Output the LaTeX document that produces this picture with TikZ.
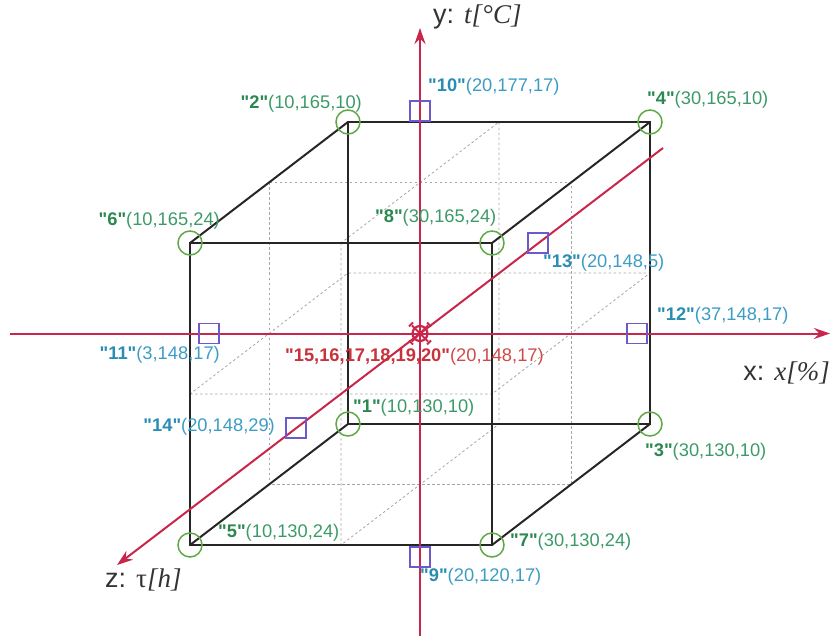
\documentclass[tikz,border=0pt]{standalone}
\usepackage{fontspec}
\setmainfont{Liberation Sans}[Ligatures=TeXOff]
\newfontfamily\tms{Liberation Serif}
\usetikzlibrary{arrows.meta}
\definecolor{axred}{HTML}{C8264A}
\definecolor{cgreen}{HTML}{5FA845}
\definecolor{tgreen}{HTML}{2A8850}
\definecolor{tgreenl}{HTML}{3C9A68}
\definecolor{tblue}{HTML}{2A8DB5}
\definecolor{tbluel}{HTML}{3C9CC4}
\definecolor{sqpurple}{HTML}{6A5ACD}
\definecolor{tred}{HTML}{C8323A}
\definecolor{tredl}{HTML}{D04A4A}
\definecolor{edgec}{HTML}{262626}
\definecolor{axtext}{HTML}{333333}
\newcommand\gnum[1]{\textcolor{tgreen}{\textbf{"#1"}}}
\newcommand\bnum[1]{\textcolor{tblue}{\textbf{"#1"}}}
\newcommand\rnum[1]{\textcolor{tred}{\textbf{"#1"}}}
\begin{document}
\begin{tikzpicture}[x=1pt,y=-1pt,
  vtx/.style={circle, draw=cgreen, line width=1.5pt, minimum size=24pt, inner sep=0pt},
  sqbox/.style={rectangle, draw=sqpurple, line width=1.5pt, minimum size=20pt, inner sep=0pt},
  lbl/.style={font=\fontsize{18.3}{20}\selectfont, inner sep=0pt},
  gl/.style={lbl, text=tgreenl},
  bl/.style={lbl, text=tbluel},
  rl/.style={lbl, text=tredl},
  axlbl/.style={font=\fontsize{27}{30}\selectfont, inner sep=0pt, text=axtext},
  cubeedge/.style={draw=edgec, line width=2pt},
  gridline/.style={draw=gray!70, line width=0.8pt, dash pattern=on 2.5pt off 2.5pt},
  axisline/.style={draw=axred, line width=2pt, -{Stealth[length=16pt,width=11pt]}},
  markline/.style={draw=axred, line width=2pt}
]
\useasboundingbox (0,0) rectangle (832,636);
% vertices
\coordinate (c6) at (190,243);
\coordinate (c8) at (492,243);
\coordinate (c5) at (190,545);
\coordinate (c7) at (492,545);
\coordinate (c2) at (348,122);
\coordinate (c4) at (650,122);
\coordinate (c1) at (348,424);
\coordinate (c3) at (650,424);
\coordinate (ctr) at (420,333.5);
% grid (mid planes)
\draw[gridline] (269,182.5) rectangle (571,484.5);
\draw[gridline] (341,243) -- (341,545) -- (499,424) -- (499,122) -- cycle;
\draw[gridline] (190,394) -- (492,394) -- (650,273) -- (348,273) -- cycle;
% cube
\draw[cubeedge] (c6) -- (c8) -- (c7) -- (c5) -- cycle;
\draw[cubeedge] (c2) -- (c4) -- (c3) -- (c1) -- cycle;
\draw[cubeedge] (c6) -- (c2);
\draw[cubeedge] (c8) -- (c4);
\draw[cubeedge] (c5) -- (c1);
\draw[cubeedge] (c7) -- (c3);
% axes
\coordinate (ys) at (420,636);
\coordinate (ye) at (420,28);
\coordinate (xs) at (10,333.5);
\coordinate (xe) at (830,333.5);
\coordinate (zs) at (663,148);
\coordinate (ze) at (117,565);
\draw[axisline] (ys) -- (ye);
\draw[axisline] (xs) -- (xe);
\draw[axisline] (zs) -- (ze);
% vertex circles
\foreach \i in {1,...,8} { \node[vtx] (v\i) at (c\i) {}; }
% squares
\node[sqbox] (s10) at (420,111) {};
\node[sqbox] (s9) at (420,557) {};
\node[sqbox] (s11) at (209,333.5) {};
\node[sqbox] (s12) at (637,333.5) {};
\node[sqbox] (s13) at (538,243) {};
\node[sqbox] (s14) at (296,428) {};
% centre marker
\node[circle, draw=axred, line width=2.2pt, minimum size=15pt, inner sep=0pt] (m) at (ctr) {};
\draw[markline] ([shift={(-8,-8)}]m.center) -- ([shift={(8,8)}]m.center);
\draw[markline] ([shift={(-8,8)}]m.center) -- ([shift={(8,-8)}]m.center);
\draw[markline] ([shift={(-11,-7)}]m.center) -- ([shift={(-7,-11)}]m.center);
\draw[markline] ([shift={(7,-11)}]m.center) -- ([shift={(11,-7)}]m.center);
\draw[markline] ([shift={(-11,7)}]m.center) -- ([shift={(-7,11)}]m.center);
\draw[markline] ([shift={(7,11)}]m.center) -- ([shift={(11,7)}]m.center);
% labels
\node[gl, anchor=east] (l2) at (362,104) {\gnum{2}(10,165,10)};
\node[gl, anchor=west] (l4) at (647,100) {\gnum{4}(30,165,10)};
\node[gl, anchor=east] (l6) at (220,221) {\gnum{6}(10,165,24)};
\node[gl, anchor=west] (l8) at (375,218) {\gnum{8}(30,165,24)};
\node[bl, anchor=west] (l10) at (428,87) {\bnum{10}(20,177,17)};
\node[bl, anchor=west] (l13) at (543,263) {\bnum{13}(20,148,5)};
\node[bl, anchor=west] (l12) at (657,316) {\bnum{12}(37,148,17)};
\node[bl, anchor=east] (l11) at (220,355) {\bnum{11}(3,148,17)};
\node[rl, anchor=west] (l15) at (285,357) {\rnum{15,16,17,18,19,20}(20,148,17)};
\node[gl, anchor=west] (l1) at (353,408) {\gnum{1}(10,130,10)};
\node[bl, anchor=east] (l14) at (275,427) {\bnum{14}(20,148,29)};
\node[gl, anchor=west] (l3) at (645,452) {\gnum{3}(30,130,10)};
\node[gl, anchor=west] (l5) at (218,533) {\gnum{5}(10,130,24)};
\node[gl, anchor=west] (l7) at (510,542) {\gnum{7}(30,130,24)};
\node[bl, anchor=west] (l9) at (420,577) {\bnum{9}(20,120,17)};
% axis labels
\node[axlbl, anchor=west] (ay) at (433,17) {y: {\tms\itshape t[°C]}};
\node[axlbl, anchor=east] (ax) at (830,373) {x: {\tms\itshape x[\%]}};
\node[axlbl, anchor=west] (az) at (105,580) {z: {\tms τ\itshape[h]}};
\end{tikzpicture}
\end{document}
